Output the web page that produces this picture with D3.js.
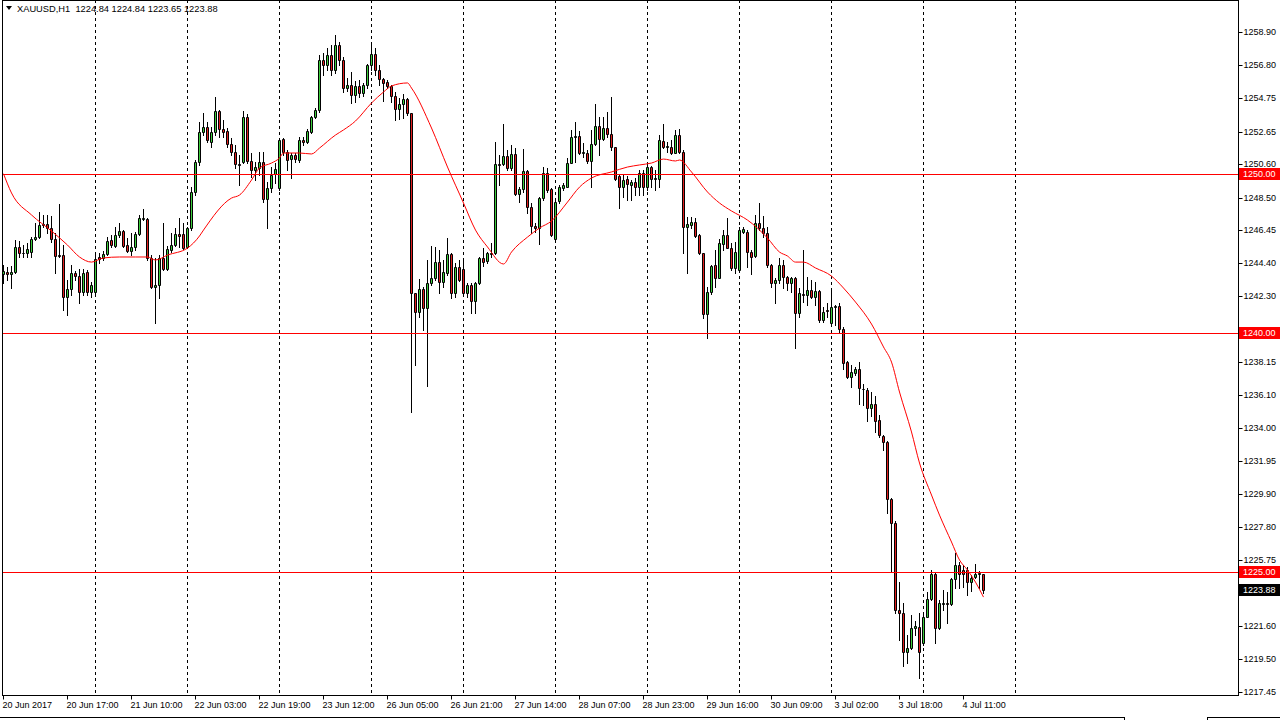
<!DOCTYPE html>
<html><head><meta charset="utf-8">
<script src="https://cdn.jsdelivr.net/npm/d3@7"></script>
<style>
body{margin:0;background:#fff;overflow:hidden;}
svg{display:block;}
text{font-family:"Liberation Sans",Arial,sans-serif;}
</style>
</head><body>
<svg id="c" width="1280" height="720"></svg>
<script>
const opens=[
1243.71,1243.83,1243.69,1243.81,1245.38,1245.05,1245.05,1245.11,1245.88,1246.01,
1246.87,1246.85,1246.62,1245.93,1244.90,1244.88,1242.28,1242.75,1243.75,1243.60,
1242.60,1243.83,1242.56,1242.60,1244.75,1244.73,1244.94,1245.84,1245.49,1246.12,
1246.41,1245.53,1245.17,1245.42,1246.22,1247.14,1247.14,1244.69,1242.91,1242.98,
1244.73,1244.04,1245.21,1245.51,1246.22,1246.22,1245.38,1246.58,1248.84,1250.72,
1252.65,1252.92,1252.02,1252.60,1253.94,1252.81,1252.69,1251.85,1251.35,1250.62,
1250.76,1253.55,1250.80,1250.24,1250.39,1250.72,1248.42,1249.09,1249.97,1249.09,
1252.16,1251.39,1250.91,1251.18,1250.87,1252.12,1252.02,1252.65,1253.55,1254.01,
1257.14,1256.83,1257.46,1256.51,1258.08,1257.14,1255.38,1255.57,1254.94,1255.50,
1255.10,1255.60,1256.80,1257.50,1256.50,1255.93,1255.76,1255.51,1254.88,1254.04,
1254.38,1254.67,1253.79,1242.49,1241.34,1242.74,1241.55,1243.12,1243.43,1244.48,
1243.22,1243.74,1244.94,1242.49,1244.16,1244.00,1242.53,1242.99,1242.03,1243.12,
1244.69,1244.52,1244.96,1245.04,1250.59,1250.59,1251.13,1250.34,1251.22,1248.71,
1249.02,1250.19,1247.89,1246.72,1246.57,1248.45,1250.07,1249.02,1245.88,1248.29,
1249.08,1249.19,1250.69,1252.28,1252.37,1251.33,1251.33,1250.82,1251.87,1253.00,
1252.16,1252.85,1252.50,1251.66,1249.86,1249.19,1249.65,1249.27,1249.48,1249.19,
1250.03,1249.19,1250.40,1249.65,1249.65,1252.06,1251.66,1251.66,1251.33,1252.43,
1251.39,1246.68,1246.78,1246.99,1246.13,1245.00,1241.19,1242.56,1244.27,1243.48,
1245.59,1246.16,1245.32,1244.10,1243.96,1246.36,1246.36,1245.07,1244.84,1246.89,
1246.62,1246.30,1244.27,1243.12,1243.33,1244.27,1243.50,1243.16,1243.43,1241.28,
1242.43,1242.37,1242.70,1242.24,1242.66,1240.82,1241.45,1240.65,1241.61,1241.70,
1240.23,1238.20,1237.26,1237.47,1237.72,1236.51,1236.42,1235.31,1235.52,1234.54,
1233.53,1233.12,1229.56,1228.09,1222.57,1222.40,1219.99,1220.20,1221.46,1221.56,
1220.52,1222.19,1223.28,1224.87,1221.46,1222.99,1223.03,1222.99,1224.53,1225.44,
1225.12,1225.12,1224.33,1224.70,1224.85,1224.84];
const highs=[
1244.27,1244.13,1244.21,1245.84,1245.78,1245.53,1245.63,1246.05,1246.89,1247.58,
1247.41,1247.41,1247.35,1246.26,1248.08,1245.53,1243.33,1244.27,1243.92,1244.00,
1244.00,1243.96,1243.23,1245.11,1245.01,1245.15,1246.05,1246.16,1246.68,1246.89,
1246.47,1245.95,1246.26,1246.37,1247.41,1247.77,1247.20,1244.90,1244.69,1244.90,
1246.93,1245.47,1246.26,1246.58,1247.20,1246.89,1246.68,1249.19,1250.87,1253.27,
1253.80,1253.27,1252.96,1254.84,1254.01,1253.38,1252.86,1252.23,1251.81,1251.18,
1253.96,1253.76,1251.33,1250.76,1251.39,1251.39,1249.51,1250.45,1250.66,1252.23,
1252.23,1251.49,1251.29,1251.29,1252.33,1252.33,1252.79,1253.63,1254.11,1257.46,
1257.60,1257.90,1258.10,1258.71,1258.30,1257.30,1256.00,1256.40,1255.80,1255.90,
1255.70,1256.90,1258.10,1257.90,1256.80,1255.99,1255.88,1255.57,1255.15,1254.73,
1254.98,1254.73,1253.83,1242.49,1243.37,1242.91,1244.58,1245.46,1245.42,1245.21,
1244.58,1245.94,1245.04,1244.37,1244.58,1244.69,1243.12,1243.16,1243.22,1244.79,
1245.31,1245.11,1245.63,1252.01,1251.17,1253.10,1251.49,1251.80,1251.59,1249.19,
1251.53,1250.23,1248.14,1246.93,1248.56,1250.40,1250.34,1249.08,1248.35,1249.29,
1249.40,1250.97,1252.74,1253.27,1252.69,1251.91,1251.49,1252.75,1254.38,1253.59,
1253.59,1253.86,1254.84,1251.70,1249.92,1249.92,1249.86,1249.61,1249.71,1250.24,
1250.24,1250.55,1250.49,1250.24,1252.43,1253.13,1252.02,1252.12,1252.75,1252.79,
1251.49,1247.31,1247.31,1247.20,1246.22,1245.05,1242.91,1244.27,1245.21,1245.88,
1246.47,1247.24,1245.63,1245.74,1246.68,1246.68,1246.47,1245.21,1247.41,1248.14,
1247.35,1246.64,1244.33,1243.43,1244.69,1244.58,1243.58,1243.50,1243.54,1242.81,
1245.21,1243.54,1243.33,1243.22,1242.70,1241.65,1241.86,1242.80,1241.76,1241.91,
1240.36,1238.25,1237.99,1237.89,1238.20,1236.80,1236.53,1236.32,1236.05,1234.85,
1233.60,1233.22,1229.62,1228.16,1224.33,1223.03,1221.04,1222.30,1221.88,1222.40,
1222.30,1223.76,1225.12,1224.95,1223.20,1223.86,1223.76,1224.60,1226.17,1225.64,
1225.44,1225.33,1224.81,1225.50,1225.08,1224.84];
const lows=[
1243.16,1243.33,1242.81,1243.75,1244.80,1244.80,1244.80,1244.80,1245.84,1245.95,
1246.68,1246.26,1245.74,1243.75,1244.80,1241.45,1241.13,1242.39,1243.33,1241.91,
1242.39,1242.39,1242.28,1242.49,1244.38,1244.59,1244.90,1245.42,1245.42,1246.05,
1245.42,1245.11,1244.90,1245.21,1246.16,1247.10,1244.60,1242.81,1240.65,1242.18,
1243.96,1243.96,1245.11,1245.47,1245.42,1245.28,1245.32,1246.47,1248.67,1250.55,
1252.44,1252.02,1251.70,1252.44,1252.33,1252.33,1251.70,1251.18,1250.34,1249.30,
1250.66,1250.66,1249.82,1249.61,1249.92,1248.25,1246.58,1248.88,1249.40,1248.98,
1251.18,1250.24,1249.72,1250.76,1250.76,1251.81,1251.91,1252.54,1253.48,1253.90,
1256.20,1256.50,1256.20,1256.30,1256.80,1255.13,1255.20,1254.44,1254.50,1254.80,
1254.90,1255.40,1256.50,1256.20,1255.60,1254.59,1255.36,1254.52,1253.37,1253.41,
1253.48,1253.69,1235.04,1237.99,1241.02,1240.19,1236.69,1243.01,1243.33,1242.49,
1242.91,1243.64,1242.17,1242.28,1243.28,1242.38,1242.24,1241.23,1241.28,1243.08,
1244.21,1244.37,1244.79,1244.96,1249.29,1250.55,1250.23,1250.23,1248.66,1248.24,
1248.87,1247.51,1246.26,1246.36,1245.57,1248.35,1248.87,1246.09,1245.73,1248.18,
1248.98,1249.14,1250.65,1250.76,1251.22,1251.07,1250.66,1249.19,1251.81,1251.18,
1252.12,1252.33,1251.49,1249.61,1247.83,1248.56,1248.35,1248.35,1248.67,1248.67,
1248.67,1248.98,1249.19,1248.98,1249.19,1251.60,1251.39,1251.24,1251.28,1251.33,
1245.00,1243.79,1246.57,1246.05,1244.96,1240.92,1239.70,1242.45,1242.91,1243.43,
1245.21,1245.32,1243.96,1243.75,1243.92,1246.26,1244.17,1243.69,1244.79,1246.47,
1246.05,1244.17,1242.91,1241.86,1243.12,1242.81,1242.70,1242.60,1239.04,1241.03,
1241.97,1241.76,1242.18,1241.76,1240.71,1240.71,1241.03,1240.61,1240.50,1240.08,
1237.72,1237.20,1236.63,1237.36,1235.54,1235.48,1234.50,1234.79,1233.81,1233.49,
1232.66,1228.68,1225.02,1222.44,1220.73,1219.09,1219.30,1220.14,1221.04,1218.32,
1220.41,1222.15,1223.20,1220.52,1221.40,1222.61,1221.77,1222.92,1223.97,1223.97,
1224.07,1223.55,1223.82,1224.60,1223.97,1223.65];
const closes=[
1243.92,1243.69,1243.83,1245.38,1245.01,1245.01,1245.28,1245.88,1246.01,1246.78,
1246.76,1246.62,1245.93,1244.86,1244.86,1242.24,1242.77,1243.75,1243.60,1242.60,
1243.79,1242.56,1243.00,1244.65,1244.65,1244.94,1245.78,1245.53,1246.16,1246.41,
1245.49,1245.17,1245.38,1246.22,1247.20,1247.20,1244.69,1242.91,1242.98,1244.69,
1244.04,1245.26,1245.53,1246.22,1246.09,1245.32,1246.58,1248.84,1250.72,1252.65,
1252.92,1252.12,1252.65,1253.94,1252.81,1252.65,1251.85,1251.35,1250.59,1250.57,
1253.55,1250.80,1250.24,1250.41,1250.72,1248.42,1249.09,1249.92,1250.30,1252.12,
1251.39,1250.87,1251.18,1250.91,1252.12,1251.98,1252.69,1253.55,1254.01,1257.14,
1256.83,1257.46,1256.51,1258.08,1257.14,1255.38,1255.57,1254.94,1255.50,1255.10,
1255.60,1256.80,1257.50,1256.50,1255.93,1255.72,1255.51,1254.88,1254.04,1254.38,
1254.67,1253.79,1242.49,1241.34,1242.74,1241.55,1243.16,1243.43,1244.48,1243.22,
1243.81,1244.94,1242.49,1244.16,1243.33,1242.53,1242.99,1242.03,1243.12,1244.69,
1244.48,1245.00,1245.04,1250.59,1250.55,1251.13,1250.34,1251.22,1248.71,1249.02,
1250.19,1247.89,1246.72,1246.57,1248.45,1250.07,1248.98,1246.15,1248.24,1249.19,
1249.29,1250.65,1252.28,1252.37,1251.28,1251.39,1250.82,1251.87,1253.00,1252.16,
1252.85,1252.50,1251.66,1249.65,1249.19,1249.61,1249.36,1249.48,1249.19,1250.03,
1249.19,1250.45,1249.65,1249.73,1252.12,1251.66,1251.74,1251.33,1252.43,1251.39,
1246.68,1246.85,1246.99,1246.09,1245.00,1241.19,1242.60,1244.21,1243.48,1245.63,
1246.16,1245.32,1244.06,1245.07,1246.47,1246.51,1245.07,1244.79,1246.89,1246.57,
1246.30,1244.27,1243.12,1243.33,1244.27,1243.50,1243.16,1243.43,1241.28,1242.49,
1242.37,1242.70,1242.24,1242.66,1240.82,1241.30,1241.38,1241.61,1241.70,1240.23,
1238.14,1237.26,1237.53,1237.72,1236.53,1236.47,1235.31,1235.52,1234.50,1233.56,
1233.12,1229.56,1228.09,1222.57,1222.40,1219.99,1220.20,1221.46,1221.60,1219.99,
1222.19,1223.28,1224.87,1221.46,1223.07,1223.07,1222.99,1224.53,1225.44,1224.87,
1224.87,1224.33,1224.64,1224.87,1224.91,1223.88];

// moving average (bar index, value)
const maIndex=[0,2,7,12,16,19,22,25,29,33,36,38,41,46,49,50,57,59,62,64,67,69,70,74,77,79,83,85,88,92,95,97,101,102,107,111,115,118,121,125,127,131,134,137,141,144,147,152,156,159,162,165,168,169,172,176,179,182,186,191,194,196,198,200,203,207,210,213,217,220,222,224,227,229,232,234,237,239,241,243,245];
const maValues=[1250.00,1248.79,1247.41,1246.40,1245.52,1244.77,1244.45,1244.71,1244.77,1244.77,1244.77,1244.58,1244.89,1245.33,1246.09,1246.46,1248.47,1248.66,1249.60,1250.36,1250.67,1250.99,1251.30,1251.30,1251.24,1251.61,1252.43,1252.75,1253.31,1254.44,1255.13,1255.51,1255.70,1255.38,1252.87,1250.42,1248.16,1246.46,1245.40,1244.33,1245.08,1246.02,1246.59,1247.03,1248.22,1249.16,1249.73,1250.11,1250.42,1250.55,1250.67,1250.92,1250.80,1250.86,1250.11,1248.85,1248.16,1247.66,1247.09,1245.96,1245.08,1244.83,1244.45,1244.45,1244.08,1243.57,1242.82,1241.94,1240.56,1239.12,1238.17,1236.29,1233.78,1231.83,1229.82,1228.56,1226.87,1225.74,1225.11,1224.35,1223.41];

const priceTicks=[1258.90,1256.80,1254.75,1252.65,1250.60,1248.50,1246.45,1244.40,1242.30,1240.25,1238.15,1236.10,1234.00,1231.95,1229.90,1227.80,1225.75,1223.65,1221.60,1219.50,1217.45];
const timeLabels=["20 Jun 2017","20 Jun 17:00","21 Jun 10:00","22 Jun 03:00","22 Jun 19:00","23 Jun 12:00","26 Jun 05:00","26 Jun 21:00","27 Jun 14:00","28 Jun 07:00","28 Jun 23:00","29 Jun 16:00","30 Jun 09:00","3 Jul 02:00","3 Jul 18:00","4 Jul 11:00"];
const timeLabelBars=[0,16,32,48,64,80,96,112,128,144,160,176,192,208,224,240];
const gridBars=[23,46,69,92,115,138,161,184,207,230,253];
const levels=[1250.00,1240.00,1225.00];
const lastPrice=1223.88;
const headerText="XAUUSD,H1  1224.84 1224.84 1223.65 1223.88";

const svg=d3.select('#c');
const L=2, R=1238, T=0, B=695;
const y=d3.scaleLinear().domain([1217.45,1258.90]).range([692,32]);
const x=d3.scaleLinear().domain([0,245]).range([3,983]);
const px=v=>Math.round(v)+0.5;

const plot=svg.append('g');
plot.append('clipPath').attr('id','clip').append('rect').attr('x',L+1).attr('y',T+1).attr('width',R-L-1).attr('height',B-T-1);
const g=plot.append('g').attr('clip-path','url(#clip)');

// vertical dashed grid
g.selectAll('line.grid').data(gridBars).enter().append('line')
 .attr('x1',d=>px(x(d))).attr('x2',d=>px(x(d))).attr('y1',T).attr('y2',B)
 .attr('stroke','#000').attr('stroke-width',1).attr('stroke-dasharray','3,3');

// candles
const n=Math.min(opens.length,highs.length,lows.length,closes.length);
const bars=d3.range(n).map(i=>({i,o:opens[i],h:highs[i],l:lows[i],c:closes[i]}));
const cg=g.append('g');
bars.forEach(d=>{
  const cx=Math.round(x(d.i));
  cg.append('line').attr('x1',cx+0.5).attr('x2',cx+0.5)
    .attr('y1',Math.round(y(d.h))).attr('y2',Math.round(y(d.l))+1)
    .attr('stroke','#000').attr('stroke-width',1);
  const yt=Math.round(y(Math.max(d.o,d.c)))+0.5, yb=Math.round(y(Math.min(d.o,d.c)))+0.5;
  const fill=d.c>=d.o?'#3ccc3c':'#e01e1e';
  cg.append('path').attr('d',`M${cx-0.5},${yt}H${cx+1.5}V${yb}H${cx-0.5}Z`)
    .attr('fill',fill).attr('stroke','#000').attr('stroke-width',1);
});

// moving average
const maPts=maIndex.map((b,k)=>({b,v:maValues[k]}));
g.append('path').datum(maPts)
 .attr('d',d3.line().x(d=>x(d.b)+0.5).y(d=>y(d.v)).curve(d3.curveMonotoneX))
 .attr('fill','none').attr('stroke','#ff0000').attr('stroke-width',1);

// horizontal levels
g.selectAll('line.lvl').data(levels).enter().append('line')
 .attr('x1',L).attr('x2',R).attr('y1',d=>px(y(d))).attr('y2',d=>px(y(d)))
 .attr('stroke','#ff0000').attr('stroke-width',1);

// frame
svg.append('rect').attr('x',L+0.5).attr('y',T+0.5).attr('width',R-L).attr('height',B-T)
 .attr('fill','none').attr('stroke','#000').attr('stroke-width',1);

// price axis (labels hidden where a price tag covers them, as in the terminal)
const tagged=levels.concat([lastPrice]);
const covered=v=>tagged.some(t=>Math.abs(y(t)-y(v))<7);
const ya=d3.axisRight(y).tickValues(priceTicks).tickSize(4).tickPadding(1)
  .tickFormat(v=>covered(v)?'':d3.format('.2f')(v));
const yg=svg.append('g').attr('transform',`translate(${R+0.5},0)`).call(ya);
yg.select('.domain').remove();
yg.selectAll('.tick').attr('transform',d=>`translate(0,${px(y(d))})`);
yg.selectAll('.tick line').attr('stroke','#000');
yg.selectAll('.tick text').attr('fill','#000').style('font-size','9px').style('font-family','"Liberation Sans",Arial,sans-serif');

// time axis
const xa=d3.axisBottom(x).tickValues(timeLabelBars).tickSize(4).tickFormat((d,k)=>timeLabels[k]);
const xg=svg.append('g').attr('transform',`translate(0,${B+0.5})`).call(xa);
xg.select('.domain').remove();
xg.selectAll('.tick').attr('transform',d=>`translate(${px(x(d))},0)`);
xg.selectAll('.tick line').attr('stroke','#000');
xg.selectAll('.tick text').attr('fill','#000').attr('text-anchor','start').attr('x',-1).attr('y',6)
  .style('font-size','9px').style('font-family','"Liberation Sans",Arial,sans-serif');

// level labels
function priceTag(v,bg){
  const yy=Math.round(y(v));
  svg.append('rect').attr('x',R+1).attr('y',yy-6).attr('width',1280-R-1).attr('height',12).attr('fill',bg);
  svg.append('text').attr('x',R+5).attr('y',yy).attr('dy','0.33em').attr('fill','#fff')
   .style('font-size','9px').text(d3.format('.2f')(v));
}
levels.forEach(v=>priceTag(v,'#ff0000'));
priceTag(lastPrice,'#000');

// header
svg.append('path').attr('d','M6,6H12L9,10Z').attr('fill','#000');
svg.append('text').attr('x',17).attr('y',12).attr('fill','#000').style('font-size','9.3px')
 .attr('xml:space','preserve').style('white-space','pre').text(headerText);

// bottom tab strip
svg.append('line').attr('x1',0).attr('x2',1124).attr('y1',717.5).attr('y2',717.5).attr('stroke','#000');
svg.append('line').attr('x1',1207).attr('x2',1280).attr('y1',717.5).attr('y2',717.5).attr('stroke','#000');
svg.append('line').attr('x1',1124.5).attr('x2',1124.5).attr('y1',717).attr('y2',720).attr('stroke','#000');
svg.append('line').attr('x1',1207.5).attr('x2',1207.5).attr('y1',717).attr('y2',720).attr('stroke','#000');
</script>
</body></html>
